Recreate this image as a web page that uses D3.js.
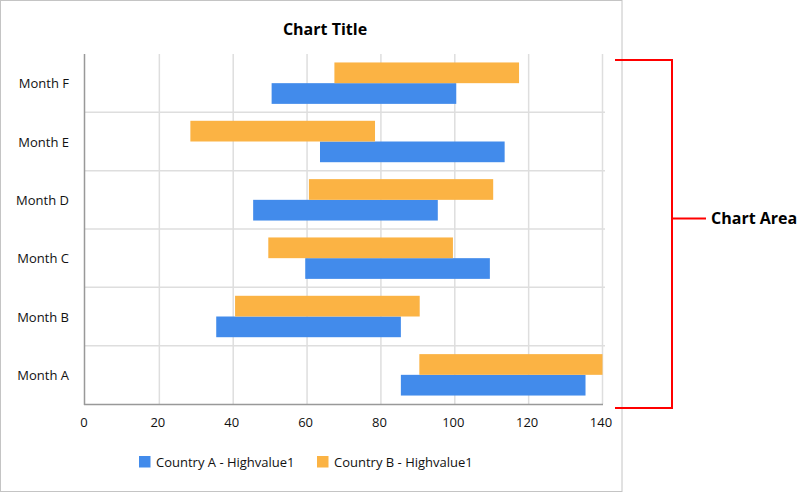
<!DOCTYPE html>
<html><head><meta charset="utf-8">
<script src="https://cdn.jsdelivr.net/npm/d3@7"></script>
<style>
body{margin:0;background:#fff;}
text{font-family:"Segoe UI","Open Sans","Noto Sans",sans-serif;}
</style></head>
<body><svg id="c" width="804" height="493"></svg>
<script>
const categories = ["Month A","Month B","Month C","Month D","Month E","Month F"];
const seriesNames = ["Country A - Highvalue1","Country B - Highvalue1"];
const countryALow  = [85.4, 35.4, 59.5, 45.4, 63.5, 50.4];
const countryAHigh = [135.4, 85.4, 109.5, 95.4, 113.5, 100.4];
const countryBLow  = [90.4, 40.5, 49.5, 60.5, 28.4, 67.4];
const countryBHigh = [140, 90.5, 99.5, 110.4, 78.4, 117.4];
const xTicks = [0,20,40,60,80,100,120,140];
const colors = ["#428BEB","#FBB344"];

const svg = d3.select("#c");
svg.append("rect").attr("x",0.5).attr("y",0.5).attr("width",621.5).attr("height",491)
  .attr("fill","#fff").attr("stroke","#c4c4c4");

svg.append("text").attr("x",325).attr("y",35).attr("text-anchor","middle")
  .attr("font-size",16).attr("font-weight","bold").attr("fill","#000").text("Chart Title");

const x = d3.scaleLinear().domain([0,140]).range([85.5,602.5]);
const y = d3.scaleBand().domain(categories.slice().reverse()).range([54,404]).paddingInner(0.29).paddingOuter(0.145);
const sub = d3.scaleBand().domain([1,0]).range([0,y.bandwidth()]);
const step = y.step();

// vertical grid
svg.append("g").selectAll("line").data(xTicks.filter(d=>d>0)).join("line")
  .attr("x1",d=>x(d)).attr("x2",d=>x(d)).attr("y1",54).attr("y2",404)
  .attr("stroke","#dedede").attr("stroke-width",1.5);
// horizontal grid (band boundaries)
svg.append("g").selectAll("line").data(categories.slice(1)).join("line")
  .attr("x1",85).attr("x2",605)
  .attr("y1",c=>y(c)+y.bandwidth()+y.paddingInner()*step/2).attr("y2",c=>y(c)+y.bandwidth()+y.paddingInner()*step/2)
  .attr("stroke","#dedede").attr("stroke-width",1.5);

const lows=[countryALow,countryBLow], highs=[countryAHigh,countryBHigh];
[0,1].forEach(s=>{
  svg.append("g").selectAll("rect").data(categories).join("rect")
    .attr("x",(c,i)=>x(lows[s][i]))
    .attr("width",(c,i)=>x(highs[s][i])-x(lows[s][i]))
    .attr("y",c=>y(c)+sub(s)).attr("height",sub.bandwidth())
    .attr("fill",colors[s]);
});

// axes
svg.append("line").attr("x1",84.5).attr("x2",84.5).attr("y1",54).attr("y2",405).attr("stroke","#999").attr("stroke-width",1.5);
svg.append("line").attr("x1",84).attr("x2",603).attr("y1",404.5).attr("y2",404.5).attr("stroke","#999").attr("stroke-width",1.5);

const xa = svg.append("g").attr("transform","translate(-2,404)")
  .call(d3.axisBottom(x).tickValues(xTicks).tickSize(0).tickPadding(14));
xa.select(".domain").remove();
xa.selectAll("text").attr("font-size",13).attr("fill","#111").style("font-family",'"Segoe UI","Open Sans","Noto Sans",sans-serif');

const ya = svg.append("g").attr("transform","translate(69,1)")
  .call(d3.axisLeft(y).tickSize(0).tickPadding(0));
ya.select(".domain").remove();
ya.selectAll("text").attr("font-size",13).attr("fill","#111").style("font-family",'"Segoe UI","Open Sans","Noto Sans",sans-serif');

// legend
const lg = [{x:139,t:seriesNames[0],c:colors[0]},{x:317,t:seriesNames[1],c:colors[1]}];
lg.forEach(d=>{
  svg.append("rect").attr("x",d.x).attr("y",456).attr("width",11.5).attr("height",11.5).attr("fill",d.c);
  svg.append("text").attr("x",d.x+17).attr("y",467).attr("font-size",13).attr("fill","#111").text(d.t);
});

// annotation bracket
const red="#ff0000";
svg.append("path").attr("d","M615,60H672V408H615").attr("fill","none").attr("stroke",red).attr("stroke-width",2);
svg.append("line").attr("x1",672).attr("x2",706).attr("y1",218.5).attr("y2",218.5).attr("stroke",red).attr("stroke-width",2);
svg.append("text").attr("x",711).attr("y",224).attr("font-size",16).attr("font-weight","bold").attr("fill","#000").text("Chart Area");
</script></body></html>
